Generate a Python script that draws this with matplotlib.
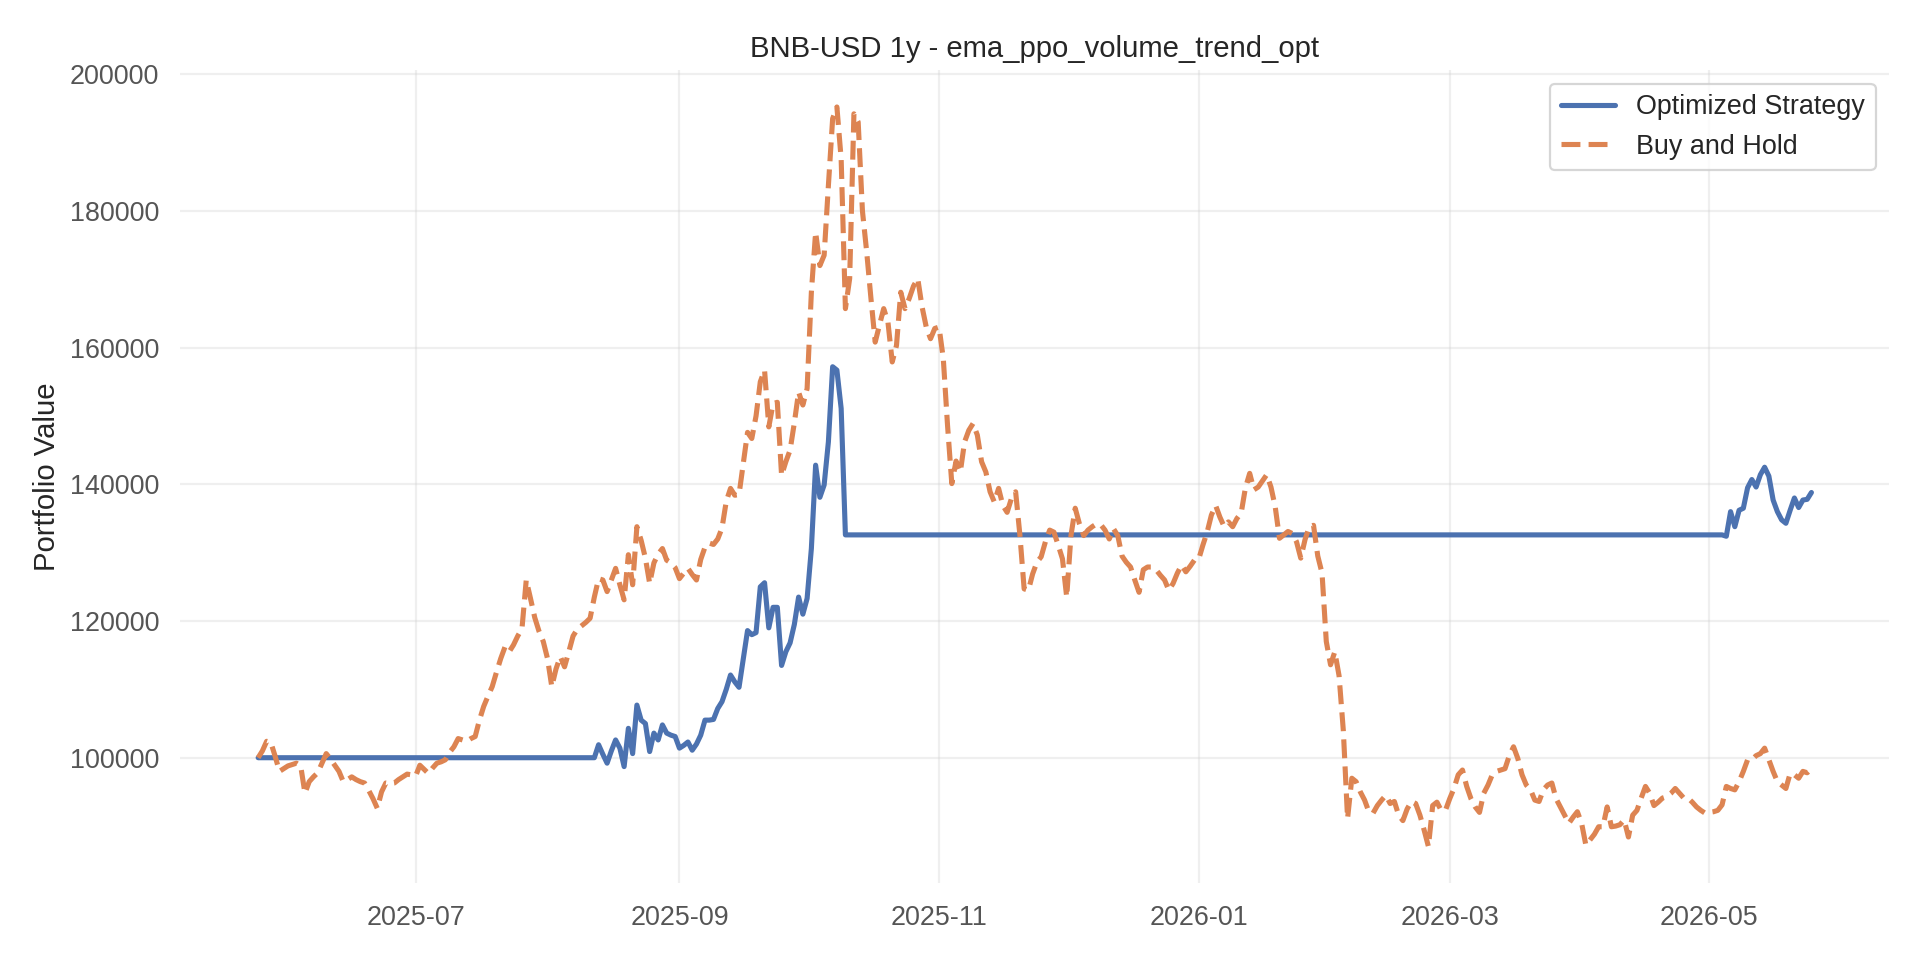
import numpy as np
import pandas as pd
import matplotlib
matplotlib.use("Agg")
import matplotlib.pyplot as plt
import seaborn as sns

# ---------------- data (values in thousands of USD) ----------------
dates = pd.date_range("2025-05-25", "2026-05-25", freq="D")

bh_may25 = [100.0, 101.0, 102.4, 102.2, 100.2, 98.0, 98.4]
bh_jun25 = [98.8, 99.0, 99.2, 98.8, 94.8, 96.5, 97.2, 97.8, 99.2, 100.6,
            99.8, 98.9, 98.0, 96.5, 96.8, 97.2, 96.8, 96.5, 96.3, 95.2,
            94.0, 92.6, 95.0, 96.3, 96.2, 96.3, 96.8, 97.2, 97.6, 97.5]
bh_jul25 = [97.3, 98.9, 98.3, 97.7, 98.5, 99.2, 99.4, 99.7, 100.8, 101.6,
            102.8, 102.6, 102.4, 102.8, 103.1, 105.5, 107.5, 109.0, 110.4, 112.5,
            114.5, 116.2, 115.5, 116.5, 117.8, 118.9, 126.0, 123.3, 120.5, 118.5,
            117.0]
bh_aug25 = [114.5, 110.4, 113.0, 114.8, 113.3, 115.5, 117.8, 118.8, 119.3, 119.8,
            120.4, 123.5, 126.2, 126.0, 124.3, 126.0, 127.7, 125.3, 123.1, 129.7,
            125.3, 133.8, 131.8, 129.2, 125.5, 128.5, 129.8, 130.6, 128.9, 128.5,
            127.8]
bh_sep25 = [126.2, 127.0, 127.7, 126.8, 126.0, 129.0, 130.8, 131.4, 131.2, 132.0,
            133.6, 137.5, 139.4, 138.4, 138.5, 143.0, 147.6, 146.7, 150.0, 155.0,
            156.7, 148.4, 151.8, 152.0, 141.3, 143.3, 145.0, 149.0, 153.5, 151.6]
bh_oct25 = [154.0, 168.1, 176.9, 172.0, 173.5, 183.7, 193.5, 195.2, 187.6, 165.7,
            170.1, 194.2, 193.0, 180.0, 174.0, 167.2, 160.8, 163.3, 165.7, 163.7,
            157.9, 160.3, 168.1, 165.7, 167.2, 169.0, 170.1, 166.0, 163.0, 161.3,
            162.8]
bh_nov25 = [163.0, 158.4, 148.6, 140.1, 143.4, 141.8, 146.2, 147.9, 148.9, 147.2,
            143.3, 141.8, 138.9, 137.4, 139.4, 136.9, 135.9, 137.9, 138.9, 132.6,
            124.7, 124.5, 126.9, 128.6, 129.4, 131.6, 133.3, 133.0, 131.1, 129.1]
bh_dec25 = [123.5, 132.5, 136.5, 134.2, 132.5, 133.3, 133.8, 134.2, 134.1, 133.3,
            132.0, 133.5, 132.5, 129.5, 128.6, 127.9, 126.0, 124.2, 127.5, 127.9,
            127.9, 127.5, 126.7, 126.0, 124.5, 125.5, 127.0, 128.2, 127.2, 128.0,
            128.9]
bh_jan26 = [129.0, 131.1, 133.0, 135.5, 136.9, 135.2, 133.8, 134.5, 133.8, 135.0,
            135.8, 139.5, 141.6, 139.2, 139.6, 140.5, 141.4, 139.6, 136.7, 132.1,
            132.6, 133.1, 132.8, 131.6, 129.2, 131.9, 133.8, 134.0, 129.5, 127.0,
            117.0]
bh_feb26 = [113.6, 115.5, 112.0, 104.0, 91.1, 97.0, 96.5, 95.0, 93.8, 92.1,
            91.9, 93.0, 93.8, 94.5, 93.3, 93.6, 91.6, 90.8, 92.5, 93.6,
            93.3, 91.6, 89.4, 87.0, 93.0, 93.5, 92.3, 92.3]
bh_mar26 = [94.0, 95.5, 97.5, 98.2, 95.8, 94.0, 92.8, 92.0, 94.8, 96.0,
            97.5, 98.0, 98.2, 98.4, 100.3, 101.6, 99.9, 97.5, 96.0, 95.3,
            93.8, 93.6, 95.3, 96.0, 96.3, 94.0, 92.8, 91.6, 90.4, 91.3,
            92.1]
bh_apr26 = [90.4, 87.2, 88.0, 88.8, 89.9, 89.9, 92.8, 89.9, 90.0, 90.2,
            90.9, 88.4, 91.6, 92.3, 94.1, 95.8, 94.8, 93.0, 93.5, 94.1,
            94.3, 94.8, 95.5, 94.8, 94.1, 94.1, 93.5, 92.8, 92.3, 91.9]
bh_may26 = [92.0, 92.1, 92.3, 93.1, 95.8, 95.5, 95.3, 96.5, 98.0, 99.7,
            99.7, 100.3, 100.6, 101.4, 99.7, 98.0, 96.5, 96.0, 95.5, 97.7,
            97.5, 97.0, 98.0, 97.8, 98.4]

# Optimized strategy: flat (cash) periods and invested periods
st_flat_start = [100.0] * 79          # 2025-05-25 .. 2025-08-11
st_trade_1 = [100.0, 101.9, 100.5, 99.2, 101.0, 102.6, 101.4, 98.7, 104.3, 100.6,
              107.7, 105.5, 105.0, 100.9, 103.6, 102.6, 104.8, 103.6, 103.3, 103.1,
              101.4, 101.8, 102.3, 101.1, 102.0, 103.3, 105.5, 105.5, 105.6, 107.2,
              108.2, 110.0, 112.1, 111.1, 110.3, 114.5, 118.6, 118.0, 118.3, 125.0,
              125.6, 119.0, 122.0, 122.0, 113.5, 115.5, 116.8, 119.5, 123.5, 121.0,
              123.3, 130.6, 142.8, 138.1, 139.9, 146.2, 157.2, 156.7, 151.1]
st_flat_mid = [132.6] * 207           # 2025-10-10 .. 2026-05-04
st_trade_2 = [132.4, 136.0, 133.8, 136.2, 136.5, 139.5, 140.7, 139.6, 141.4, 142.5,
              141.2, 137.7, 136.0, 134.8, 134.3, 136.2, 138.0, 136.6, 137.7, 137.8,
              138.8]

buy_hold = np.array(bh_may25 + bh_jun25 + bh_jul25 + bh_aug25 + bh_sep25 + bh_oct25 +
                    bh_nov25 + bh_dec25 + bh_jan26 + bh_feb26 + bh_mar26 + bh_apr26 +
                    bh_may26) * 1000
strategy = np.array(st_flat_start + st_trade_1 + st_flat_mid + st_trade_2) * 1000

title = "BNB-USD 1y - ema_ppo_volume_trend_opt"
series_labels = ["Optimized Strategy", "Buy and Hold"]

# ---------------- plot ----------------
sns.set_theme(style="whitegrid", context="notebook", font_scale=1.1)
plt.rcParams['font.family'] = ['Liberation Sans', 'DejaVu Sans']

fig, ax = plt.subplots(figsize=(12, 6), dpi=160)
fig.subplots_adjust(left=0.094, right=0.9839, top=0.927, bottom=0.0797)

ax.plot(dates, strategy, label=series_labels[0], color="#4C72B0", linewidth=2.3)
ax.plot(dates, buy_hold, label=series_labels[1], color="#DD8452", linewidth=2.3,
        linestyle="--")

ax.set_ylim(81600, 200600)
ax.set_title(title, color="#262626")
ax.set_ylabel("Portfolio Value", color="#262626")
ax.grid(True, alpha=0.3)
for s in ax.spines.values():
    s.set_visible(False)
ax.tick_params(axis="both", labelcolor="#555555")
ax.legend(loc="upper right")

fig.savefig("out.png", dpi=160)
